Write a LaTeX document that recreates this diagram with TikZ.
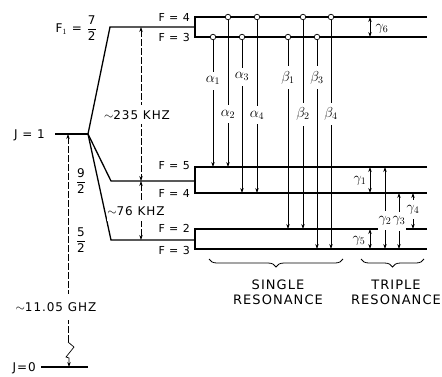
\documentclass[tikz,border=0pt]{standalone}
\usepackage{fontspec}
\setmainfont{DejaVu Sans}[LetterSpace=8]
\usetikzlibrary{positioning, arrows.meta, decorations.pathreplacing}
\newcommand{\halves}[1]{$\displaystyle\frac{\mbox{#1}}{\mbox{2}}$}

\begin{document}
\begin{tikzpicture}[
    x=1pt, y=-1pt,
    >={Stealth[length=5pt, width=3.4pt]},
    lev/.style={line width=1.3pt},
    trans/.style={line width=.7pt, ->},
    gaparrow/.style={line width=.7pt, <->},
    gapline/.style={line width=.7pt, dash pattern=on 7pt off 2pt},
    lbl/.style={font=\fontsize{12}{15}\selectfont, inner sep=1pt},
    flbl/.style={font=\fontsize{11}{12}\selectfont, inner sep=1pt, anchor=east},
    onl/.style={fill=white, inner xsep=.5pt, inner ysep=5pt, font=\fontsize{14}{16}\selectfont},
    ring/.style={circle, draw, fill=white, line width=.7pt, inner sep=0pt, minimum size=5.5pt},
    bracedown/.style={decorate, decoration={brace, mirror, amplitude=8pt}, line width=.8pt}
]
\useasboundingbox (0,0) rectangle (442,376);

% rotational levels
\node[flbl, font=\fontsize{12}{13}\selectfont] (j1) at (46,135) {J = 1};
\node[flbl, font=\fontsize{12}{13}\selectfont] (j0) at (37,368) {J=0};
\coordinate (fan) at (88,134);
\coordinate (j1w) at (55,134);
\coordinate (j0w) at (41,367);
\coordinate (j0e) at (88,367);
\draw[lev] (j1w) -- (fan);
\draw[lev] (j0w) -- (j0e);

% F1 levels
\draw[lev] (fan) -- (110,27) -- (195,27);
\draw[lev] (fan) -- (111,181) -- (195,181);
\draw[lev] (fan) -- (111,240) -- (195,240);
\node[lbl, anchor=east] (f72) at (98,28) {F$_1$ = \halves{7}};
\node[lbl] (f92) at (81,181) {\halves{9}};
\node[lbl] (f52) at (81,240) {\halves{5}};

% hyperfine levels
\draw[lev] (427,17) -- (195,17) -- (195,37) -- (427,37);
\draw[lev] (427,167) -- (195,167) -- (195,193) -- (427,193);
\draw[lev] (427,229) -- (195,229) -- (195,249) -- (427,249);
\node[flbl] (ha) at (191,17) {F = 4};
\node[flbl] (hb) at (191,37) {F = 3};
\node[flbl] (hc) at (191,166) {F = 5};
\node[flbl] (hd) at (191,193) {F = 4};
\node[flbl] (he) at (191,228) {F = 2};
\node[flbl] (hf) at (191,250) {F = 3};

% splittings
\coordinate (k1) at (141,27);
\coordinate (k2) at (141,181);
\coordinate (k3) at (141,240);
\draw[gapline, <->] (k1) -- node[onl, font=\fontsize{12}{14}\selectfont, xshift=-4pt, pos=.57] {$\sim$235 KHZ} (k2);
\draw[gapline, <->] (k2) -- node[onl, font=\fontsize{12}{14}\selectfont, xshift=-5pt, pos=.51] {$\sim$76 KHZ} (k3);

\coordinate (g1) at (68,134);
\coordinate (g2) at (68,342);
\coordinate (g3) at (69,367);
\draw[gapline, <-] (g1) -- (g2);
\draw[line width=.7pt, ->] (g2) -- (74,347) -- (66,357) -- (69,358) -- (g3);
\node[lbl, fill=white, inner ysep=8pt] (ghz) at (56,307) {$\sim$11.05 GHZ};

% single resonance transitions
\node[ring] (a1) at (213,37) {};
\node[ring] (a2) at (228,17) {};
\node[ring] (a3) at (242,37) {};
\node[ring] (a4) at (257,17) {};
\node[ring] (b1) at (288,37) {};
\node[ring] (b2) at (303,17) {};
\node[ring] (b3) at (317,37) {};
\node[ring] (b4) at (331,17) {};
\coordinate (a1e) at (213,167);
\coordinate (a2e) at (228,167);
\coordinate (a3e) at (242,193);
\coordinate (a4e) at (257,193);
\coordinate (b1e) at (288,229);
\coordinate (b2e) at (303,229);
\coordinate (b3e) at (317,249);
\coordinate (b4e) at (331,249);
\draw[trans] (a1) -- node[onl, pos=.32] {$\alpha_1$} (a1e);
\draw[trans] (a2) -- node[onl, pos=.64] {$\alpha_2$} (a2e);
\draw[trans] (a3) -- node[onl, pos=.24] {$\alpha_3$} (a3e);
\draw[trans] (a4) -- node[onl, pos=.55] {$\alpha_4$} (a4e);
\draw[trans] (b1) -- node[onl, pos=.20] {$\beta_1$} (b1e);
\draw[trans] (b2) -- node[onl, pos=.45] {$\beta_2$} (b2e);
\draw[trans] (b3) -- node[onl, pos=.18] {$\beta_3$} (b3e);
\draw[trans] (b4) -- node[onl, pos=.41] {$\beta_4$} (b4e);

% triple resonance intervals
\coordinate (c6a) at (370,17);
\coordinate (c6b) at (370,37);
\coordinate (c1a) at (370,167);
\coordinate (c1b) at (370,193);
\coordinate (c5a) at (370,229);
\coordinate (c5b) at (370,249);
\coordinate (c2a) at (385,167);
\coordinate (c2b) at (385,249);
\coordinate (c3a) at (399,193);
\coordinate (c3b) at (399,249);
\coordinate (c4a) at (413,193);
\coordinate (c4b) at (413,229);
\draw[gaparrow] (c6a) -- (c6b);
\draw[gaparrow] (c1a) -- (c1b);
\draw[gaparrow] (c5a) -- (c5b);
\draw[gaparrow] (c2a) -- node[onl, pos=.65] {$\gamma_2$} (c2b);
\draw[gaparrow] (c3a) -- node[onl, pos=.5] {$\gamma_3$} (c3b);
\draw[gaparrow] (c4a) -- node[onl, pos=.47] {$\gamma_4$} (c4b);
\node[lbl, font=\fontsize{14}{16}\selectfont] (g6) at (382,29) {$\gamma_6$};
\node[lbl, font=\fontsize{14}{16}\selectfont] (g1l) at (360,181) {$\gamma_1$};
\node[lbl, font=\fontsize{14}{16}\selectfont] (g5l) at (359,241) {$\gamma_5$};

% braces
\coordinate (s1) at (209,259);
\coordinate (s2) at (343,259);
\coordinate (t1) at (361,259);
\coordinate (t2) at (424,259);
\draw[bracedown] (s1) -- (s2);
\draw[bracedown] (t1) -- (t2);
\node[lbl, font=\fontsize{13}{15}\selectfont, align=center] (single) at (278,292) {SINGLE\\RESONANCE};
\node[lbl, font=\fontsize{13}{15}\selectfont, align=center] (triple) at (396,292) {TRIPLE\\RESONANCE};
\end{tikzpicture}
\end{document}
